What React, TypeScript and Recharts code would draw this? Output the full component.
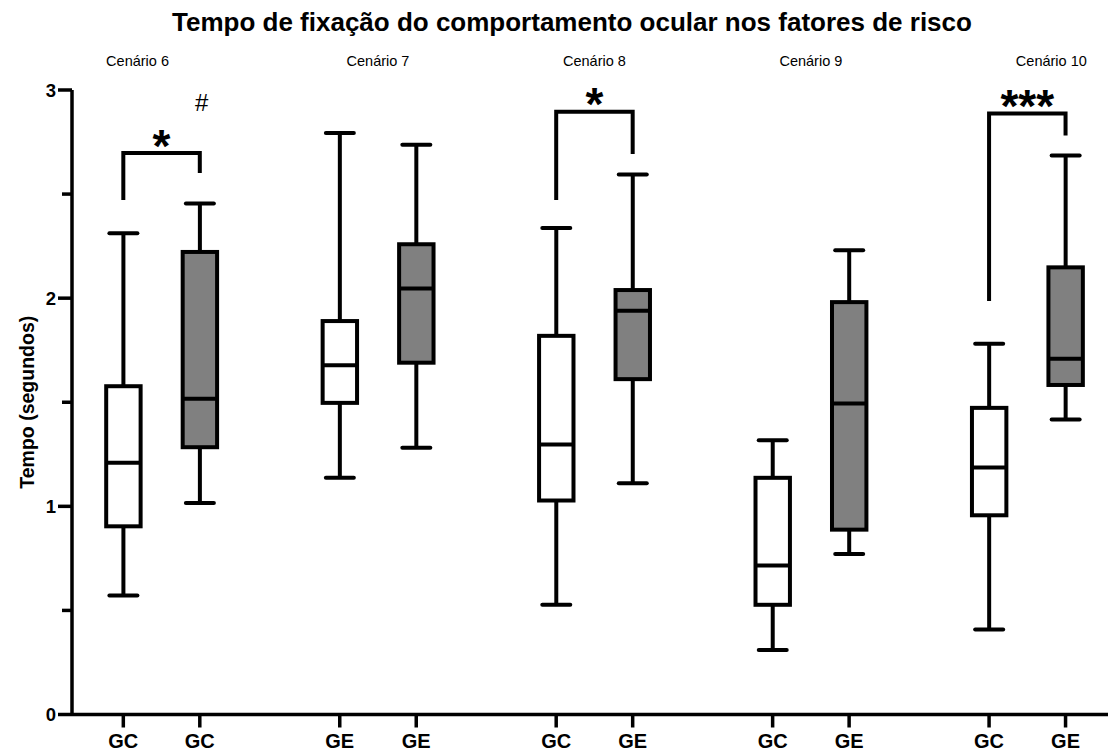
import React from "react";
import { Bar, ComposedChart, Scatter, XAxis, YAxis } from "recharts";

// one entry per box, in drawing order
const scenarios = ["Cenário 6", "Cenário 7", "Cenário 8", "Cenário 9", "Cenário 10"];
const groupLabels = ["GC", "GC", "GE", "GE", "GC", "GE", "GC", "GE", "GC", "GE"];
const whiskerLow = [0.572, 1.016, 1.137, 1.281, 0.527, 1.111, 0.31, 0.771, 0.408, 1.417];
const quartile1 = [0.904, 1.284, 1.497, 1.69, 1.028, 1.611, 0.527, 0.888, 0.957, 1.583];
const medians = [1.209, 1.517, 1.678, 2.046, 1.297, 1.94, 0.716, 1.494, 1.186, 1.709];
const quartile3 = [1.577, 2.222, 1.89, 2.259, 1.819, 2.039, 1.137, 1.981, 1.473, 2.148];
const whiskerHigh = [2.312, 2.455, 2.793, 2.737, 2.337, 2.594, 1.317, 2.23, 1.781, 2.685];

// significance brackets (scenario index, text, leg ends, bar height, text height)
const sigScenario = [0, 2, 4];
const sigText = ["*", "*", "***"];
const sigLeftEnd = [2.472, 2.471, 1.986];
const sigRightEnd = [2.601, 2.693, 2.782];
const sigTop = [2.697, 2.896, 2.887];
const sigTextY = [2.774, 2.978, 2.966];

// "#" note above Cenário 6 GE
const hashBox = 1;
const hashY = 2.94;

const yTicks = [0, 0.5, 1, 1.5, 2, 2.5, 3];

const GROUP_PITCH = 2.83;
const FONT = "'Liberation Sans', Arial, Helvetica, sans-serif";
const W = 1108;
const H = 750;

const boxPos = (i: number) => Math.floor(i / 2) * GROUP_PITCH + (i % 2);

const rows = groupLabels.map((label, i) => ({
  pos: boxPos(i),
  label,
  member: i % 2,
  lo: whiskerLow[i],
  q1: quartile1[i],
  med: medians[i],
  q3: quartile3[i],
  hi: whiskerHigh[i],
}));

const xTicks = rows.map((r) => r.pos);

const brackets = sigScenario.map((g, j) => {
  const left = g * GROUP_PITCH;
  const right = left + 1;
  return [
    { pos: left, y: sigLeftEnd[j] },
    { pos: left, y: sigTop[j] },
    { pos: right, y: sigTop[j] },
    { pos: right, y: sigRightEnd[j] },
  ];
});
const starMarks = sigScenario.map((g, j) => ({ pos: g * GROUP_PITCH + 0.5, y: sigTextY[j], text: sigText[j] }));
const hashMarks = [{ pos: boxPos(hashBox), y: hashY, text: "#" }];
// scenario captions sit above the top of the value axis
const scenarioMarks = scenarios.map((text, g) => ({ pos: g * GROUP_PITCH + 0.5, y: 3, text, idx: g }));

function BoxShape(props: any) {
  const { x, y, width, height, payload } = props;
  if (!payload) return null;
  const { lo, q1, med, q3, hi, member } = payload;
  const k = height / (hi - lo);
  const py = (v: number) => y + (hi - v) * k;
  const cx = x + width / 2;
  const cap = 14;
  return (
    <g stroke="#000" strokeWidth={4}>
      <line x1={cx} x2={cx} y1={py(hi)} y2={py(q3)} />
      <line x1={cx} x2={cx} y1={py(q1)} y2={py(lo)} />
      <line x1={cx - cap} x2={cx + cap} y1={py(hi)} y2={py(hi)} strokeLinecap="round" />
      <line x1={cx - cap} x2={cx + cap} y1={py(lo)} y2={py(lo)} strokeLinecap="round" />
      <rect x={x} y={py(q3)} width={width} height={py(q1) - py(q3)} fill={member ? "#808080" : "#ffffff"} />
      <line x1={x} x2={x + width} y1={py(med)} y2={py(med)} />
    </g>
  );
}

function YTick({ x, y, payload }: any) {
  const major = Number.isInteger(payload.value);
  return (
    <g>
      <line x1={x - (major ? 14 : 10)} x2={x} y1={y} y2={y} stroke="#000" strokeWidth={3.5} />
      {major ? (
        <text x={x - 16} y={y} dy={6.5} textAnchor="end" fontFamily={FONT} fontWeight={700} fontSize={18.5} fill="#000">
          {payload.value}
        </text>
      ) : null}
    </g>
  );
}

function XTick({ x, y, index }: any) {
  return (
    <g>
      <line x1={x} x2={x} y1={y} y2={y + 13} stroke="#000" strokeWidth={3.5} />
      <text x={x} y={y + 33} textAnchor="middle" fontFamily={FONT} fontWeight={700} fontSize={20} fill="#000">
        {groupLabels[index]}
      </text>
    </g>
  );
}

const ScenarioShape = (p: any) => {
  const last = p.payload.idx === scenarios.length - 1;
  const first = p.payload.idx === 0;
  return (
    <text
      x={p.cx + (first ? -24 : last ? 24 : 0)}
      y={p.cy - 24}
      textAnchor="middle"
      fontFamily={FONT}
      fontSize={14.5}
      fill="#000"
    >
      {p.payload.text}
    </text>
  );
};

const StarShape = (p: any) => (
  <text x={p.cx} y={p.cy} dy="0.55em" textAnchor="middle" fontFamily={FONT} fontWeight={700} fontSize={46} fill="#000">
    {p.payload.text}
  </text>
);

const HashShape = (p: any) => (
  <text x={p.cx + 2} y={p.cy} dy="0.36em" textAnchor="middle" fontFamily={FONT} fontSize={24} fill="#000">
    {p.payload.text}
  </text>
);

export default function App() {
  return (
    <div style={{ position: "absolute", left: 0, top: 0, width: W, height: H, background: "#fff" }}>
      <div
        style={{
          position: "absolute",
          left: 172,
          top: 9,
          whiteSpace: "nowrap",
          fontFamily: FONT,
          fontWeight: 700,
          fontSize: 26,
          lineHeight: "26px",
          color: "#000",
        }}
      >
        Tempo de fixação do comportamento ocular nos fatores de risco
      </div>
      <ComposedChart width={W} height={H} data={rows} margin={{ top: 90, right: 0, bottom: 0, left: 0 }}>
        <XAxis
          dataKey="pos"
          type="number"
          domain={[-0.671, 12.875]}
          ticks={xTicks}
          interval={0}
          height={35.5}
          axisLine={{ stroke: "#000", strokeWidth: 3.5 }}
          tickLine={false}
          tickSize={0}
          tickMargin={0}
          tick={<XTick />}
        />
        <YAxis
          type="number"
          domain={[0, 3]}
          ticks={yTicks}
          interval={0}
          width={72}
          axisLine={{ stroke: "#000", strokeWidth: 3.5 }}
          tickLine={false}
          tickSize={0}
          tickMargin={0}
          tick={<YTick />}
          label={{
            value: "Tempo (segundos)",
            angle: -90,
            position: "insideLeft",
            offset: 27,
            style: { textAnchor: "middle", fontFamily: FONT, fontWeight: 700, fontSize: 19.5, fill: "#000" },
          }}
        />
        <Bar dataKey={(d: any) => [d.lo, d.hi]} barSize={44} shape={<BoxShape />} isAnimationActive={false} />
        {brackets.map((pts, j) => (
          <Scatter
            key={`br-${j}`}
            data={pts}
            dataKey="y"
            line={{ stroke: "#000", strokeWidth: 4 }}
            lineType="joint"
            shape={() => <g />}
            isAnimationActive={false}
          />
        ))}
        <Scatter data={starMarks} dataKey="y" shape={<StarShape />} isAnimationActive={false} />
        <Scatter data={hashMarks} dataKey="y" shape={<HashShape />} isAnimationActive={false} />
        <Scatter data={scenarioMarks} dataKey="y" shape={<ScenarioShape />} isAnimationActive={false} />
      </ComposedChart>
    </div>
  );
}
